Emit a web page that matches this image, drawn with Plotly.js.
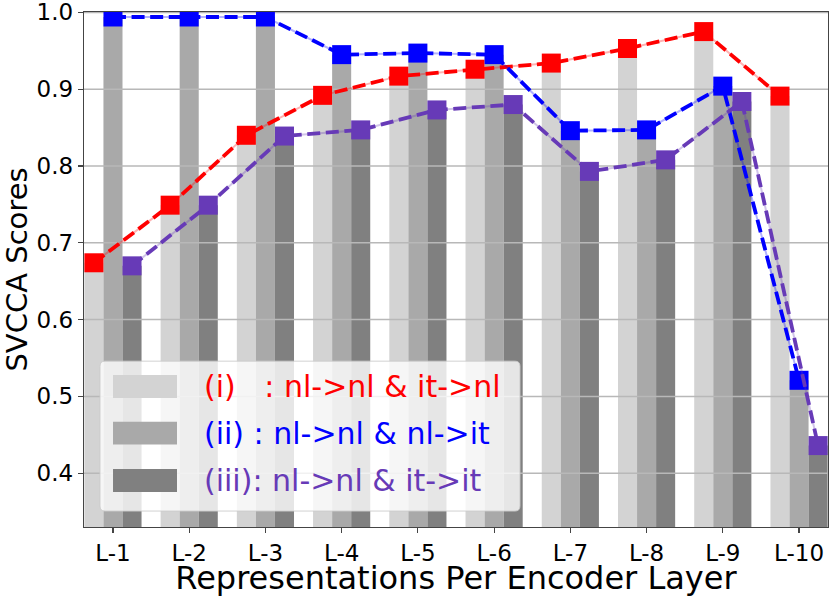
<!DOCTYPE html>
<html>
<head>
<meta charset="utf-8">
<script src="https://cdn.plot.ly/plotly-3.0.1.min.js"></script>
<style>
  body { margin: 0; background: #fff; }
  #chart { width: 830px; height: 597px; }
</style>
</head>
<body>
<div id="chart"></div>
<script>
// SVCCA scores per encoder layer, three comparison settings

var layers = ['L-1', 'L-2', 'L-3', 'L-4', 'L-5', 'L-6', 'L-7', 'L-8', 'L-9', 'L-10'];

// (i) : nl->nl & it->nl
var scores_i   = [0.674, 0.749, 0.840, 0.892, 0.917, 0.926, 0.934, 0.953, 0.975, 0.891];
// (ii) : nl->nl & nl->it
var scores_ii  = [0.994, 0.994, 0.994, 0.945, 0.947, 0.945, 0.846, 0.847, 0.904, 0.521];
// (iii): nl->nl & it->it
var scores_iii = [0.670, 0.749, 0.839, 0.847, 0.873, 0.880, 0.793, 0.808, 0.884, 0.436];

var legend_labels = [
	'(i)&nbsp;&nbsp;&nbsp;: nl-&gt;nl &amp; it-&gt;nl',
	'(ii) : nl-&gt;nl &amp; nl-&gt;it',
	'(iii): nl-&gt;nl &amp; it-&gt;it'
];
var y_ticks = [0.4, 0.5, 0.6, 0.7, 0.8, 0.9, 1.0];

var bar_colors  = ['#d3d3d3', '#a9a9a9', '#808080'];
var line_colors = ['#ff0000', '#0000ff', '#673ab7'];
var FONT = 'DejaVu Sans, Verdana, sans-serif';


//////////////////////////////// Traces ////////////////////////////////

var series = [scores_i, scores_ii, scores_iii];
var groups = ['i', 'ii', 'iii'];
var data = [];

// grey bars, one per setting
series.forEach(function(values, k){
	data.push({
		type: 'bar',
		x: layers,
		y: values,
		offsetgroup: groups[k],
		alignmentgroup: 'a',
		marker: {color: bar_colors[k], line: {width: 0}},
		hoverinfo: 'skip',
		showlegend: false
	});
});

// horizontal grid, drawn above the bars but under the lines (overlay axis x2)
var grid_x = [], grid_y = [];
y_ticks.forEach(function(t){
	grid_x.push(0, 1, null);
	grid_y.push(t, t, null);
});
data.push({
	type: 'scatter',
	mode: 'lines',
	x: grid_x,
	y: grid_y,
	xaxis: 'x2',
	yaxis: 'y',
	line: {color: '#b8b8b8', width: 1.5},
	hoverinfo: 'skip',
	showlegend: false
});

// dashed lines with square markers, grouped like the bars (overlay axis x3)
series.forEach(function(values, k){
	// faint solid line underneath
	data.push({
		type: 'scatter',
		mode: 'lines',
		x: layers,
		y: values,
		xaxis: 'x3',
		yaxis: 'y',
		offsetgroup: groups[k],
		alignmentgroup: 'l',
		line: {color: line_colors[k], width: 2},
		opacity: 0.3,
		hoverinfo: 'skip',
		showlegend: false
	});
	data.push({
		type: 'scatter',
		mode: 'lines+markers',
		x: layers,
		y: values,
		xaxis: 'x3',
		yaxis: 'y',
		offsetgroup: groups[k],
		alignmentgroup: 'l',
		line: {color: line_colors[k], width: 3.8, dash: '13px,5.6px'},
		marker: {symbol: 'square', size: 19, color: line_colors[k], line: {width: 0}},
		showlegend: false
	});
});


//////////////////////////////// Legend ////////////////////////////////

var shapes = [];
var annotations = [];

// rounded legend frame in paper coordinates
var bx0 = 0.0215, bx1 = 0.586, by0 = 0.031, by1 = 0.322, rx = 0.0067, ry = 0.0097;
shapes.push({
	type: 'path', xref: 'paper', yref: 'paper', layer: 'above',
	path: 'M' + (bx0 + rx) + ',' + by0 + ' L' + (bx1 - rx) + ',' + by0 +
		' Q' + bx1 + ',' + by0 + ' ' + bx1 + ',' + (by0 + ry) +
		' L' + bx1 + ',' + (by1 - ry) +
		' Q' + bx1 + ',' + by1 + ' ' + (bx1 - rx) + ',' + by1 +
		' L' + (bx0 + rx) + ',' + by1 +
		' Q' + bx0 + ',' + by1 + ' ' + bx0 + ',' + (by1 - ry) +
		' L' + bx0 + ',' + (by0 + ry) +
		' Q' + bx0 + ',' + by0 + ' ' + (bx0 + rx) + ',' + by0 + ' Z',
	fillcolor: 'rgba(255,255,255,0.8)',
	line: {color: 'rgba(204,204,204,0.9)', width: 1}
});

var row_y = [0.2728, 0.1822, 0.0903];
row_y.forEach(function(yc, k){
	shapes.push({
		type: 'rect', xref: 'paper', yref: 'paper', layer: 'above',
		x0: 0.039, x1: 0.125, y0: yc - 0.0222, y1: yc + 0.0222,
		fillcolor: bar_colors[k], line: {width: 0}
	});
	annotations.push({
		xref: 'paper', yref: 'paper', x: 0.158, y: yc,
		xanchor: 'left', yanchor: 'middle', showarrow: false,
		text: legend_labels[k],
		font: {family: FONT, size: 30, color: line_colors[k]}
	});
});


//////////////////////////////// Layout ////////////////////////////////

var x_range = [-0.38, 9.38];

var layout = {
	width: 830,
	height: 597,
	margin: {l: 84, r: 2, t: 12, b: 70},
	paper_bgcolor: '#ffffff',
	plot_bgcolor: '#ffffff',
	font: {family: FONT, color: '#000'},
	barmode: 'group',
	bargap: 0.25,
	bargroupgap: 0,
	scattermode: 'group',
	scattergap: 0.25,
	showlegend: false,
	xaxis: {
		type: 'category',
		range: x_range,
		showline: true, mirror: true, linecolor: '#444', linewidth: 1.2,
		ticks: 'outside', ticklen: 5, tickwidth: 1.2, tickcolor: '#444',
		tickfont: {family: FONT, size: 23},
		showgrid: false, zeroline: false,
		title: {text: 'Representations Per Encoder Layer', font: {family: FONT, size: 32}, standoff: 2}
	},
	xaxis2: {
		overlaying: 'x', anchor: 'y', range: [0, 1], visible: false
	},
	xaxis3: {
		overlaying: 'x', anchor: 'y', type: 'category', range: x_range, visible: false
	},
	yaxis: {
		range: [0.33, 1.0005],
		tickvals: y_ticks,
		tickformat: '.1f',
		ticklabeloverflow: 'allow',
		showline: true, mirror: true, linecolor: '#444', linewidth: 1.2,
		ticks: 'outside', ticklen: 5, tickwidth: 1.2, tickcolor: '#444',
		tickfont: {family: FONT, size: 23},
		showgrid: false, zeroline: false,
		title: {text: 'SVCCA Scores', font: {family: FONT, size: 29}, standoff: 10}
	},
	shapes: shapes,
	annotations: annotations
};

Plotly.newPlot('chart', data, layout, {displayModeBar: false, staticPlot: true});
</script>
</body>
</html>
